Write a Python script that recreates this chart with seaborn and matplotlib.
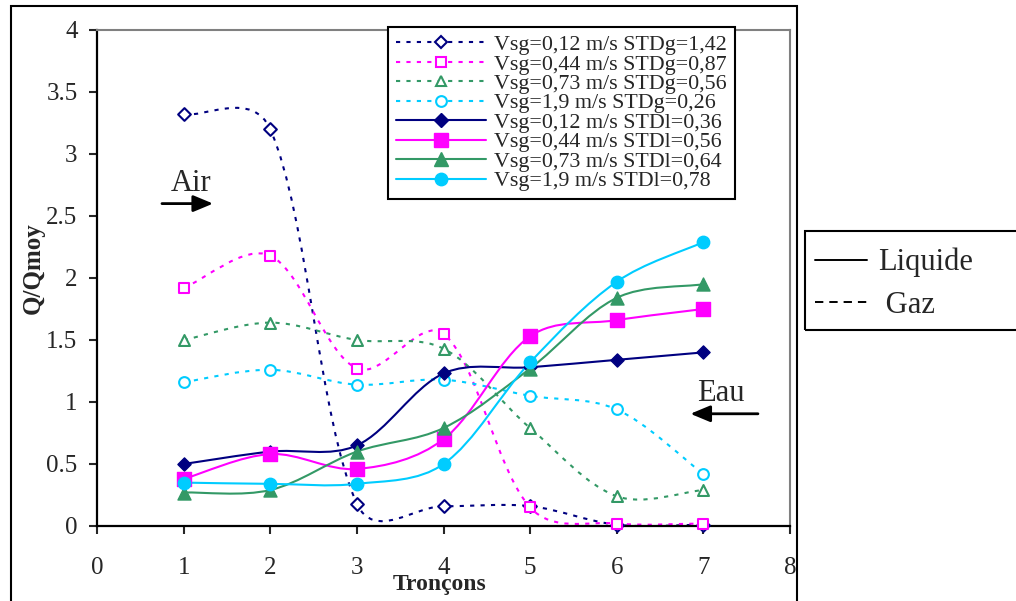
import matplotlib
matplotlib.use("Agg")
import matplotlib.pyplot as plt
import seaborn as sns
from matplotlib.path import Path
from matplotlib.patches import PathPatch, Rectangle
from matplotlib.lines import Line2D

# Données
troncons = [1, 2, 3, 4, 5, 6, 7]

gaz_012 = [3.32, 3.20, 0.18, 0.16, 0.16, 0.01, 0.01]
gaz_044 = [1.92, 2.18, 1.27, 1.55, 0.15, 0.02, 0.02]
gaz_073 = [1.50, 1.64, 1.50, 1.43, 0.79, 0.24, 0.29]
gaz_19 = [1.16, 1.26, 1.14, 1.18, 1.05, 0.94, 0.42]

liq_012 = [0.50, 0.60, 0.65, 1.23, 1.28, 1.34, 1.40]
liq_044 = [0.38, 0.58, 0.46, 0.70, 1.53, 1.66, 1.75]
liq_073 = [0.27, 0.29, 0.60, 0.79, 1.27, 1.84, 1.95]
liq_19 = [0.35, 0.34, 0.34, 0.50, 1.32, 1.97, 2.29]

labels_gaz = ["Vsg=0,12 m/s STDg=1,42", "Vsg=0,44 m/s STDg=0,87",
              "Vsg=0,73 m/s STDg=0,56", "Vsg=1,9 m/s STDg=0,26"]
labels_liq = ["Vsg=0,12 m/s STDl=0,36", "Vsg=0,44 m/s STDl=0,56",
              "Vsg=0,73 m/s STDl=0,64", "Vsg=1,9 m/s STDl=0,78"]

couleurs = ["#000080", "#FF00FF", "#339966", "#00CCFF"]
marqueurs = ["D", "s", "^", "o"]
tailles_creux = [42, 52, 62, 60]
tailles_pleins = [45, 90, 88, 80]

sns.set_style("ticks")
plt.rcParams["font.family"] = ["Liberation Serif", "DejaVu Serif"]
plt.rcParams["lines.scale_dashes"] = False

TIRETS = (0, (3, 4.5))

# échelle écran (px par unité) pour le lissage façon Excel
PX_X = 693 / 8
PX_Y = 496 / 4


def courbe_lisse(ax, xs, ys, color, ls, lw):
    """Lissage type Excel : Bezier dont les tangentes sont pondérées
    par la longueur des segments voisins (en pixels)."""
    pts = list(zip(xs, ys))
    n = len(pts)

    def dist(a, b):
        return (((b[0] - a[0]) * PX_X) ** 2 + ((b[1] - a[1]) * PX_Y) ** 2) ** 0.5

    def facteur(d_in, d_out):
        if d_in + d_out == 0:
            return 0
        return (2 * d_out / (d_in + d_out)) ** 0.5 / 6

    verts = [pts[0]]
    codes = [Path.MOVETO]
    for i in range(n - 1):
        p0 = pts[max(i - 1, 0)]
        p1 = pts[i]
        p2 = pts[i + 1]
        p3 = pts[min(i + 2, n - 1)]
        d01, d12, d23 = dist(p0, p1), dist(p1, p2), dist(p2, p3)
        f1 = facteur(d01, d12)
        f2 = facteur(d23, d12)
        c1 = (p1[0] + (p2[0] - p0[0]) * f1, p1[1] + (p2[1] - p0[1]) * f1)
        c2 = (p2[0] - (p3[0] - p1[0]) * f2, p2[1] - (p3[1] - p1[1]) * f2)
        verts += [c1, c2, p2]
        codes += [Path.CURVE4] * 3
    patch = PathPatch(Path(verts, codes), fill=False, edgecolor=color,
                      linestyle=ls, linewidth=lw, zorder=2)
    ax.add_patch(patch)


fig = plt.figure(figsize=(10.16, 6.01), dpi=100)
ax = fig.add_axes([97 / 1016, 1 - 526 / 601, 693 / 1016, 496 / 601])

series_gaz = [gaz_012, gaz_044, gaz_073, gaz_19]
series_liq = [liq_012, liq_044, liq_073, liq_19]

handles = []
for vals, c, m, s in zip(series_gaz, couleurs, marqueurs, tailles_creux):
    courbe_lisse(ax, troncons, vals, c, TIRETS, 1.5)
    sns.scatterplot(x=troncons, y=vals, marker=m, s=s, color="white",
                    edgecolor=c, linewidth=1.5, ax=ax, zorder=3, clip_on=False)
    handles.append(Line2D([], [], color=c, ls=TIRETS, lw=1.5, marker=m,
                          markersize=s ** 0.5, markerfacecolor="white",
                          markeredgecolor=c, markeredgewidth=1.5))
for vals, c, m, s in zip(series_liq, couleurs, marqueurs, tailles_pleins):
    courbe_lisse(ax, troncons, vals, c, "-", 1.5)
    sns.scatterplot(x=troncons, y=vals, marker=m, s=s, color=c,
                    edgecolor=c, linewidth=1, ax=ax, zorder=4, clip_on=False)
    handles.append(Line2D([], [], color=c, ls="-", lw=1.5, marker=m,
                          markersize=s ** 0.5, markerfacecolor=c,
                          markeredgecolor=c))

ax.set_xlim(0, 8)
ax.set_ylim(0, 4)
ax.set_xticks(range(0, 9))
ax.set_yticks([i * 0.5 for i in range(9)])
ax.set_yticklabels([f"{i * 0.5:g}" for i in range(9)])
ax.tick_params(axis="both", labelsize=18, length=6, width=1.5, direction="out")
ax.tick_params(axis="x", pad=16)
ax.tick_params(axis="y", pad=8)

for side in ["left", "bottom"]:
    ax.spines[side].set_color("black")
    ax.spines[side].set_linewidth(1.6)
for side in ["top", "right"]:
    ax.spines[side].set_color("#808080")
    ax.spines[side].set_linewidth(1.5)

ax.set_xlabel("Tronçons", fontsize=17, fontweight="bold")
ax.set_ylabel("Q/Qmoy", fontsize=18, fontweight="bold")
ax.xaxis.set_label_coords(0.495, -0.118)
ax.yaxis.set_label_coords(-0.092, 0.52)
ax.xaxis.label.set_va("center")
ax.yaxis.label.set_va("center")

# Flèches Air / Eau
fleche = dict(arrowstyle="-|>,head_length=1.2,head_width=0.5",
              color="black", lw=2, shrinkA=0, shrinkB=0)
ax.text(1.085, 2.76, "Air", fontsize=22, ha="center", va="center")
ax.annotate("", xy=(1.34, 2.60), xytext=(0.75, 2.60), arrowprops=fleche)
ax.text(7.2, 1.07, "Eau", fontsize=22, ha="center", va="center")
ax.annotate("", xy=(6.85, 0.905), xytext=(7.63, 0.905), arrowprops=fleche)

leg = ax.legend(handles, labels_gaz + labels_liq, loc="upper left",
                bbox_to_anchor=(388 / 1016, 1 - 27 / 601),
                bbox_transform=fig.transFigure, borderaxespad=0,
                fontsize=15.8, handlelength=4.1, handletextpad=0.4,
                labelspacing=-0.04, borderpad=0.35, fancybox=False,
                framealpha=1, numpoints=1)
leg.get_frame().set_edgecolor("black")
leg.get_frame().set_linewidth(1.5)
leg.set_zorder(10)

# Légende Liquide / Gaz hors du graphique
fig.patches.append(Rectangle((805 / 1016, 1 - 330 / 601), 230 / 1016, 99 / 601,
                             transform=fig.transFigure, fill=False,
                             edgecolor="black", linewidth=1.5))
fig.legend([Line2D([], [], color="black", lw=1.4),
            Line2D([], [], color="black", lw=1.4, ls=(0, (6, 4.3)))],
           ["Liquide", " Gaz"], loc="center left",
           bbox_to_anchor=(815 / 1016, 1 - 284 / 601), frameon=False,
           fontsize=22, handlelength=1.7, handletextpad=0.35,
           labelspacing=0.45, borderpad=0, borderaxespad=0)

# Cadre extérieur
fig.patches.append(Rectangle((11 / 1016, -0.02), 786 / 1016, 1 - 6 / 601 + 0.02,
                             transform=fig.transFigure, fill=False,
                             edgecolor="black", linewidth=1.5))

fig.savefig("out.png", dpi=100)
